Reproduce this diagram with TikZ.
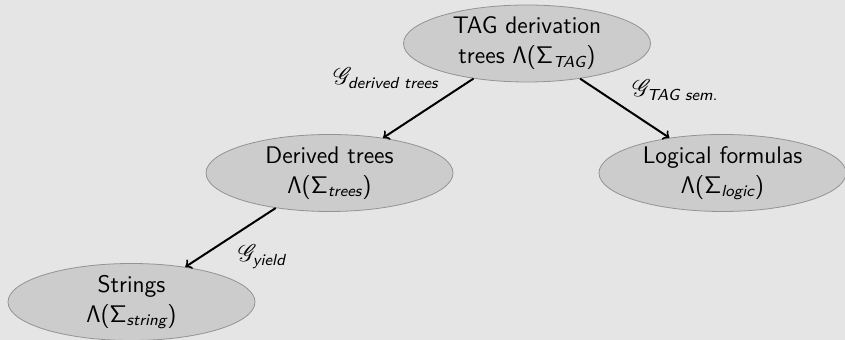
\documentclass[tikz,border=0pt]{standalone}
\usepackage{amsmath}
\usepackage{mathrsfs}
\usetikzlibrary{shapes.geometric}
\tikzset{
  sigbox/.style={ellipse, draw=gray!85, fill=gray!40, inner sep=0pt,
    minimum width=123.5pt, minimum height=38.5pt, align=center,
    font=\sffamily\fontsize{12}{15}\selectfont},
  mor/.style={->, line width=1pt},
  morlabel/.style={font=\sffamily\fontsize{12}{15}\selectfont}
}
\newcommand{\lsig}[1]{$\mathsf{\Lambda}$($\mathsf{\Sigma}_{\text{\itshape #1}}$)}
\newcommand{\gmor}[1]{$\mathscr{G}_{\text{\itshape #1}}$}
\begin{document}
\begin{tikzpicture}[x = .5pt, y = -.5pt]
	\fill[gray!20] (0,0) rectangle (845,340);
	\useasboundingbox (0,0) rectangle (845,340);
	\node[sigbox] (tag) at (527,43.5) {TAG derivation\\trees \lsig{TAG}};
	\node[sigbox] (trees) at (329.5,173) {Derived trees\\\lsig{trees}};
	\node[sigbox] (logic) at (722.5,173) {Logical formulas\\\lsig{logic}};
	\node[sigbox] (string) at (131.5,302) {Strings\\\lsig{string}};
	\draw[mor] (tag) -- (trees) node[morlabel, pos = .3, above left] {\gmor{derived trees}};
	\draw[mor] (tag) -- (logic) node[morlabel, midway, above right] {\gmor{TAG sem.}};
	\draw[mor] (trees) -- (string) node[morlabel, midway, below right] {\gmor{yield}};
\end{tikzpicture}
\end{document}
